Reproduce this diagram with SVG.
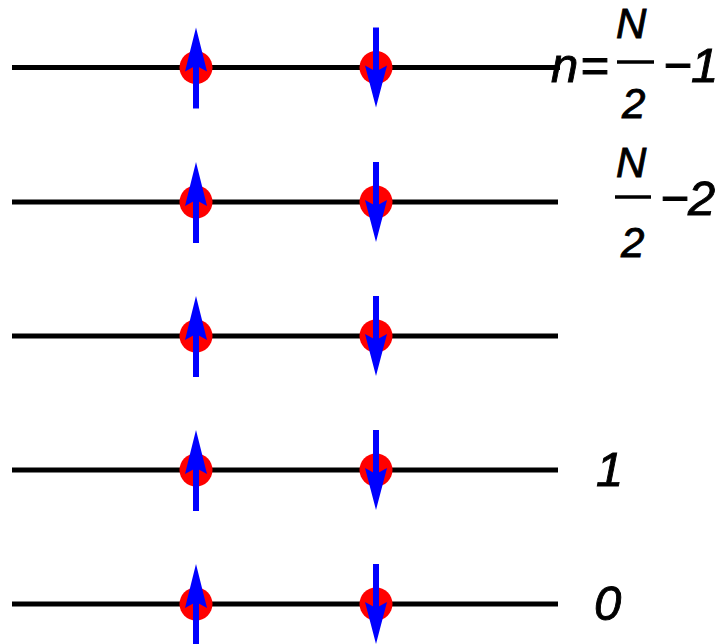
<svg xmlns="http://www.w3.org/2000/svg" xmlns:xlink="http://www.w3.org/1999/xlink" width="719" height="644" viewBox="0 0 719 644">
<style>
.lvl{stroke:#000;stroke-width:5;fill:none}
.el{fill:#ff0000}
.sh{stroke:#0000ff;stroke-width:6;fill:none}
.hd{fill:#0000ff}
.t{font-family:"Liberation Sans",Arial,sans-serif;font-style:italic;fill:#000;stroke:#000;stroke-width:0.9}
.m{font-size:49px}
.f{font-size:42px}
.bar{stroke:#000;stroke-width:3.5}
</style>
<defs>
<g id="pair">
<circle class="el" cx="196" cy="0" r="16.5"/>
<circle class="el" cx="376" cy="0" r="16.5"/>
<line class="sh" x1="196" y1="41" x2="196" y2="-20"/>
<polygon class="hd" points="196,-40 207,4 196,-2 185,4"/>
<line class="sh" x1="376" y1="-40" x2="376" y2="20"/>
<polygon class="hd" points="376,40 387,-2 376,4 365,-2"/>
</g>
</defs>
<g id="connectors">
<line class="lvl" x1="12" y1="67.5" x2="560" y2="67.5"/>
<line class="lvl" x1="12" y1="202" x2="558" y2="202"/>
<line class="lvl" x1="12" y1="336" x2="558" y2="336"/>
<line class="lvl" x1="12" y1="470" x2="558" y2="470"/>
<line class="lvl" x1="12" y1="604" x2="558" y2="604"/>
</g>
<g id="level-top"><use xlink:href="#pair" transform="translate(0,67.5)"/></g>
<g id="level-second"><use xlink:href="#pair" transform="translate(0,202)"/></g>
<g id="level-middle"><use xlink:href="#pair" transform="translate(0,336)"/></g>
<g id="level-1"><use xlink:href="#pair" transform="translate(0,470)"/></g>
<g id="level-0"><use xlink:href="#pair" transform="translate(0,604)"/></g>
<g id="label-top">
<text class="t m" x="551" y="82">n</text>
<text class="t m" x="580" y="82">=</text>
<text class="t f" x="616" y="38">N</text>
<line class="bar" x1="617" y1="62" x2="654" y2="62"/>
<text class="t f" x="622" y="118">2</text>
<text class="t m" x="663" y="82">−</text>
<text class="t m" x="691" y="82">1</text>
</g>
<g id="label-second">
<text class="t f" x="616" y="177">N</text>
<line class="bar" x1="615" y1="197" x2="651" y2="197"/>
<text class="t f" x="621" y="257">2</text>
<text class="t m" x="660" y="215">−</text>
<text class="t m" x="688" y="215">2</text>
</g>
<g id="label-1"><text class="t m" x="596" y="486">1</text></g>
<g id="label-0"><text class="t m" x="594" y="620">0</text></g>
</svg>
